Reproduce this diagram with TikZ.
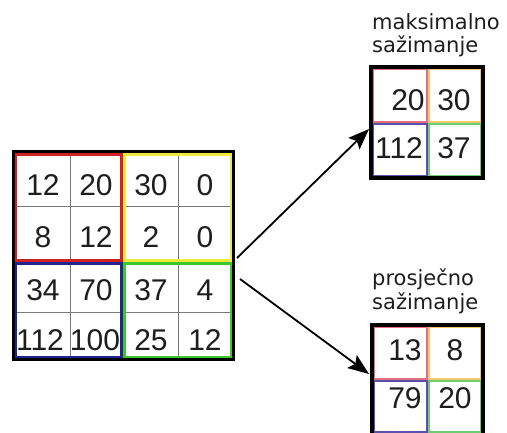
\documentclass[tikz,border=0pt]{standalone}
\usepackage{fontspec}
\setmainfont{Liberation Sans}
\newfontfamily\labfont{DejaVu Sans}
\usetikzlibrary{arrows.meta}
\definecolor{numgray}{RGB}{30,30,30}
\definecolor{qred}{RGB}{205,35,35}
\definecolor{qyellow}{RGB}{240,235,60}
\definecolor{qblue}{RGB}{35,35,140}
\definecolor{qgreen}{RGB}{60,200,45}
\definecolor{pred}{RGB}{230,110,130}
\definecolor{pyellow}{RGB}{240,200,110}
\definecolor{pblue}{RGB}{90,80,170}
\definecolor{pgreen}{RGB}{110,205,110}
\definecolor{gridgray}{RGB}{120,120,120}
\begin{document}
\begin{tikzpicture}[x=1pt,y=-1pt,
  num/.style={font=\fontsize{30}{30}\selectfont, text=numgray, inner sep=0pt},
  lab/.style={font=\labfont\fontsize{21}{25}\selectfont, text=numgray, inner sep=0pt, anchor=west},
  gridline/.style={draw=gridgray, line width=1},
  outer/.style={draw=black, line width=3},
  smallouter/.style={draw=black, line width=4},
  quad/.style={line width=3},
  pquad/.style={line width=1.6},
  arr/.style={line width=1.8, -{Stealth[length=21pt, width=16pt, inset=4pt]}}]
\useasboundingbox (0,0) rectangle (507,433);

% ---------- big 4x4 grid ----------
\node[inner sep=0pt, minimum width=220pt, minimum height=208pt] (big) at (123,256) {};
\draw[gridline] (70,152) -- (70,360);
\draw[gridline] (178,152) -- (178,360);
\draw[gridline] (13,207) -- (233,207);
\draw[gridline] (13,313) -- (233,313);
\draw[quad, qred]    (15.5,154.5) rectangle (121.5,260.5);
\draw[quad, qyellow] (124.5,154.5) rectangle (231,260.5);
\draw[quad, qblue]   (15.5,263.5) rectangle (121.5,358);
\draw[quad, qgreen]  (124.5,263.5) rectangle (231,358);
\draw[outer] (13,152) rectangle (233,360);

\node[num] (b11) at (43,185) {12};
\node[num] (b12) at (96,185) {20};
\node[num] (b13) at (151,185) {30};
\node[num] (b14) at (205,185) {0};
\node[num] (b21) at (43,237) {8};
\node[num] (b22) at (96,237) {12};
\node[num] (b23) at (151,237) {2};
\node[num] (b24) at (205,237) {0};
\node[num] (b31) at (43,290) {34};
\node[num] (b32) at (96,290) {70};
\node[num] (b33) at (151,290) {37};
\node[num] (b34) at (205,290) {4};
\node[num] (b41) at (40,340) {112};
\node[num] (b42) at (95,340) {100};
\node[num] (b43) at (151,340) {25};
\node[num] (b44) at (205,340) {12};

% ---------- max pooling grid ----------
\node[inner sep=0pt, minimum width=112pt, minimum height=111pt] (maxg) at (427,122.5) {};
\draw[pquad, pred]    (373.5,69.5) rectangle (427,122);
\draw[pquad, pyellow] (429,69.5) rectangle (481,122);
\draw[pquad, pblue]   (373.5,124) rectangle (427,176);
\draw[pquad, pgreen]  (429,124) rectangle (481,176);
\draw[smallouter] (371,67) rectangle (483,178);
\node[num] (m11) at (408,100) {20};
\node[num] (m12) at (454,100) {30};
\node[num] (m21) at (399,148) {112};
\node[num] (m22) at (454,148) {37};
\node[lab] (mlab1) at (372,22) {maksimalno};
\node[lab] (mlab2) at (372,46) {sažimanje};

% ---------- average pooling grid ----------
\node[inner sep=0pt, minimum width=111pt, minimum height=106pt] (avgg) at (427.5,378) {};
\draw[pquad, pred]    (374.5,327.5) rectangle (427,379);
\draw[pquad, pyellow] (429,327.5) rectangle (481,379);
\draw[pquad, pblue]   (374.5,381) rectangle (427,432);
\draw[pquad, pgreen]  (429,381) rectangle (481,432);
\draw[smallouter] (372,325) rectangle (483,435);
\node[num] (a11) at (405,350) {13};
\node[num] (a12) at (455,350) {8};
\node[num] (a21) at (405,398) {79};
\node[num] (a22) at (455,398) {20};
\node[lab] (alab1) at (372,279) {prosječno};
\node[lab] (alab2) at (372,303) {sažimanje};

% ---------- arrows ----------
\coordinate (s1) at (237,258);
\coordinate (s2) at (240,279);
\coordinate (e1) at (369,129);
\coordinate (e2) at (369,374);
\draw[arr] (s1) -- (e1);
\draw[arr] (s2) -- (e2);
\end{tikzpicture}
\end{document}
